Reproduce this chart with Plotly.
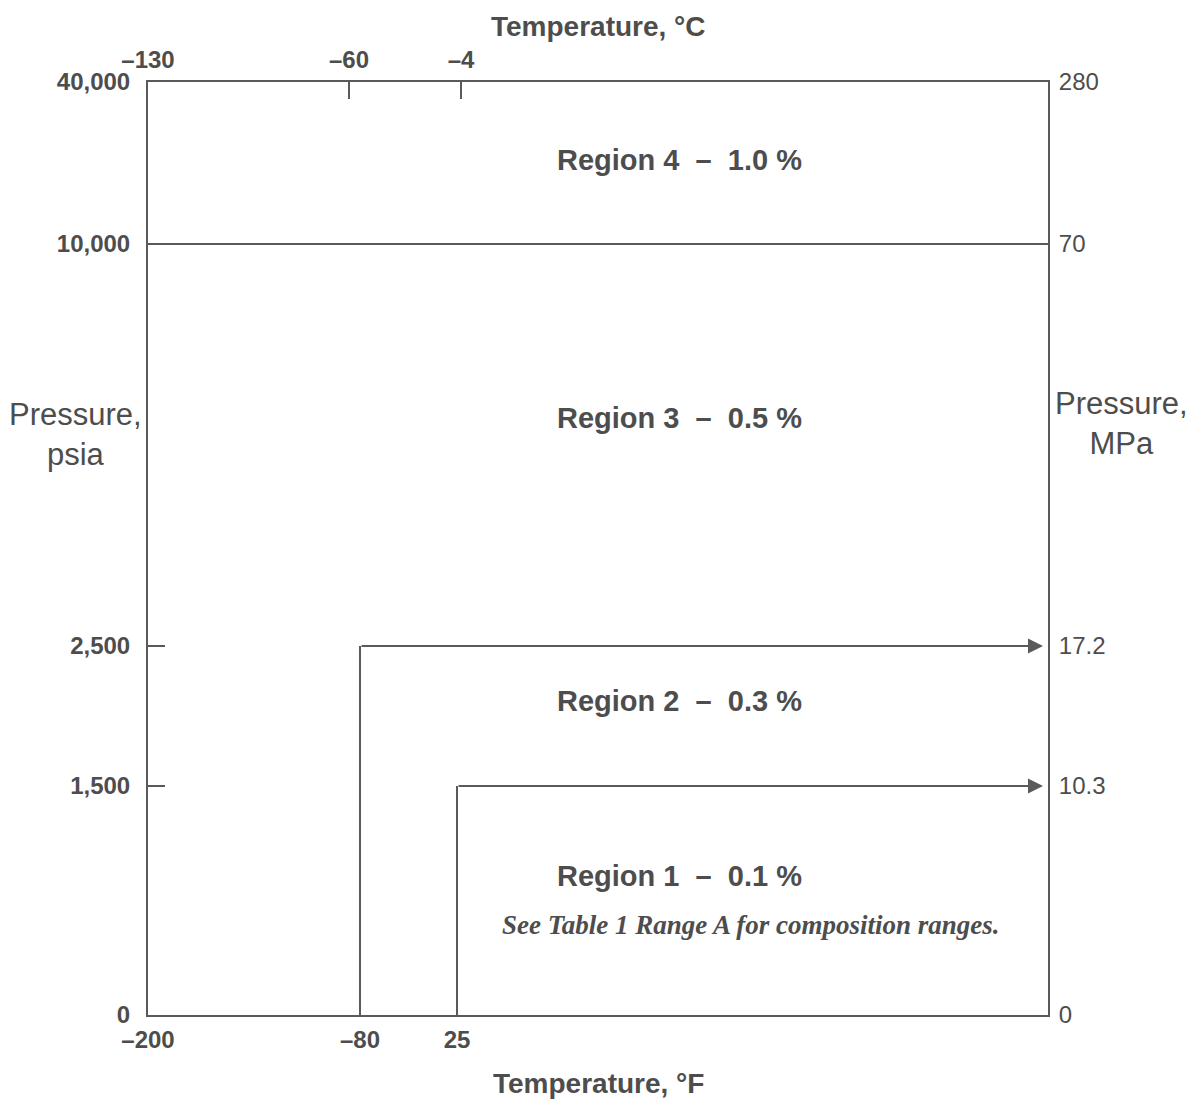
import numpy as np
import plotly.graph_objects as go

# ---------------- data ----------------
TEMP_F_TICKS = [-200, -80, 25]
TEMP_C_TICKS = [-130, -60, -4]
PSIA_TICKS = [0, 1500, 2500, 10000, 40000]
PSIA_LABELS = ["0", "1,500", "2,500", "10,000", "40,000"]
MPA_LABELS = ["0", "10.3", "17.2", "70", "280"]

# region boundaries: lower temperature limit (°F) and upper pressure (psia)
BOUND_TEMP_F = [25, -80]        # region 1, region 2
BOUND_PSIA = [1500, 2500]       # region 1, region 2
REGION4_PSIA = 10000

REGION_LABELS = ["Region 1  \u2013  0.1 %", "Region 2  \u2013  0.3 %",
                 "Region 3  \u2013  0.5 %", "Region 4  \u2013  1.0 %"]
NOTE = "See Table 1 Range A for composition ranges."

# ---------------- schematic (not-to-scale) axis scale ----------------
F_POS = [0, 212, 309]
C_POS = [0, 201, 313]
X_MAX = 900
P_POS = [0, 229, 369, 771, 933]
Y_MAX = 933


def xf(t):
    return float(np.interp(t, TEMP_F_TICKS, F_POS))


def xc(t):
    return float(np.interp(t, TEMP_C_TICKS, C_POS))


def yp(p):
    return float(np.interp(p, PSIA_TICKS, P_POS))


def dash(v):
    return str(v).replace("-", "\u2013")


LINE = "#5a5a5a"
TEXT = "#4d4d4d"
SANS = "Liberation Sans, Arial, sans-serif"

fig = go.Figure()

# 10,000 psia boundary across full temperature span
fig.add_trace(go.Scatter(x=[xf(TEMP_F_TICKS[0]), X_MAX], y=[yp(REGION4_PSIA)] * 2,
                         mode="lines", line=dict(color=LINE, width=2),
                         showlegend=False, hoverinfo="skip"))

# vertical temperature boundaries of regions 1 and 2, with arrows to the right
for t, p in zip(BOUND_TEMP_F, BOUND_PSIA):
    fig.add_trace(go.Scatter(x=[xf(t), xf(t)], y=[yp(0), yp(p)],
                             mode="lines", line=dict(color=LINE, width=2),
                             showlegend=False, hoverinfo="skip"))
    fig.add_annotation(x=X_MAX, y=yp(p), ax=xf(t), ay=yp(p),
                       xref="x", yref="y", axref="x", ayref="y",
                       text="", showarrow=True, arrowhead=2, arrowsize=1.5,
                       arrowwidth=2, arrowcolor=LINE, standoff=5)

# dummy trace for secondary axes
fig.add_trace(go.Scatter(x=[None], y=[None], xaxis="x2", yaxis="y2",
                         showlegend=False, hoverinfo="skip"))

tick_bold = dict(family=SANS, size=24, color=TEXT, weight="bold")

fig.update_layout(
    width=1188, height=1094,
    margin=dict(l=140, r=148, t=74, b=87),
    paper_bgcolor="white", plot_bgcolor="white",
    xaxis=dict(range=[0, X_MAX], tickvals=[xf(t) for t in TEMP_F_TICKS],
               ticktext=[dash(t) for t in TEMP_F_TICKS], ticks="",
               showline=True, linecolor=LINE, linewidth=2,
               showgrid=False, zeroline=False, tickfont=tick_bold,
               ticklabelstandoff=2),
    xaxis2=dict(range=[0, X_MAX], overlaying="x", side="top",
                tickvals=[xc(t) for t in TEMP_C_TICKS],
                ticktext=[dash(t) for t in TEMP_C_TICKS],
                ticks="inside", ticklen=17, tickwidth=1.5, tickcolor=LINE,
                showline=True, linecolor=LINE, linewidth=2,
                showgrid=False, zeroline=False, tickfont=tick_bold,
                ticklabelstandoff=2),
    yaxis=dict(range=[0, Y_MAX], tickvals=[yp(p) for p in PSIA_TICKS],
               ticktext=PSIA_LABELS, ticks="inside", ticklen=17, tickwidth=1.5,
               tickcolor=LINE, showline=True, linecolor=LINE, linewidth=2,
               showgrid=False, zeroline=False, tickfont=tick_bold,
               ticklabelstandoff=11),
    yaxis2=dict(range=[0, Y_MAX], overlaying="y", side="right",
                tickvals=[yp(p) for p in PSIA_TICKS], ticktext=MPA_LABELS,
                ticks="", showline=True, linecolor=LINE, linewidth=2,
                showgrid=False, zeroline=False,
                tickfont=dict(family=SANS, size=24, color=TEXT),
                ticklabelstandoff=4),
)


def note(x, y, text, font, align="center"):
    fig.add_annotation(x=x, y=y, xref="paper", yref="paper", text=text,
                       showarrow=False, xanchor="center", yanchor="middle",
                       align=align, font=font)


# axis titles
title_font = dict(family=SANS, size=28, color=TEXT, weight="bold")
note(0.5, 1.0590, "Temperature, °C", title_font)
note(0.5, -0.0729, "Temperature, °F", title_font)
side_font = dict(family=SANS, size=31, color=TEXT)
note(-0.0811, 0.6217, "Pressure,<br>psia", side_font)
note(1.0822, 0.6345, "Pressure,<br>MPa", side_font)

# region labels
REGION_Y = [0.149, 0.3365, 0.640, 0.9164]
region_font = dict(family=SANS, size=29, color=TEXT, weight="bold")
for lab, yy in zip(REGION_LABELS, REGION_Y):
    note(0.591, yy, lab, region_font)

note(0.67, 0.0965, NOTE,
     dict(family="Liberation Serif, Times New Roman, serif", size=27,
          color=TEXT, weight="bold", style="italic"))

fig.write_html("out.html")
